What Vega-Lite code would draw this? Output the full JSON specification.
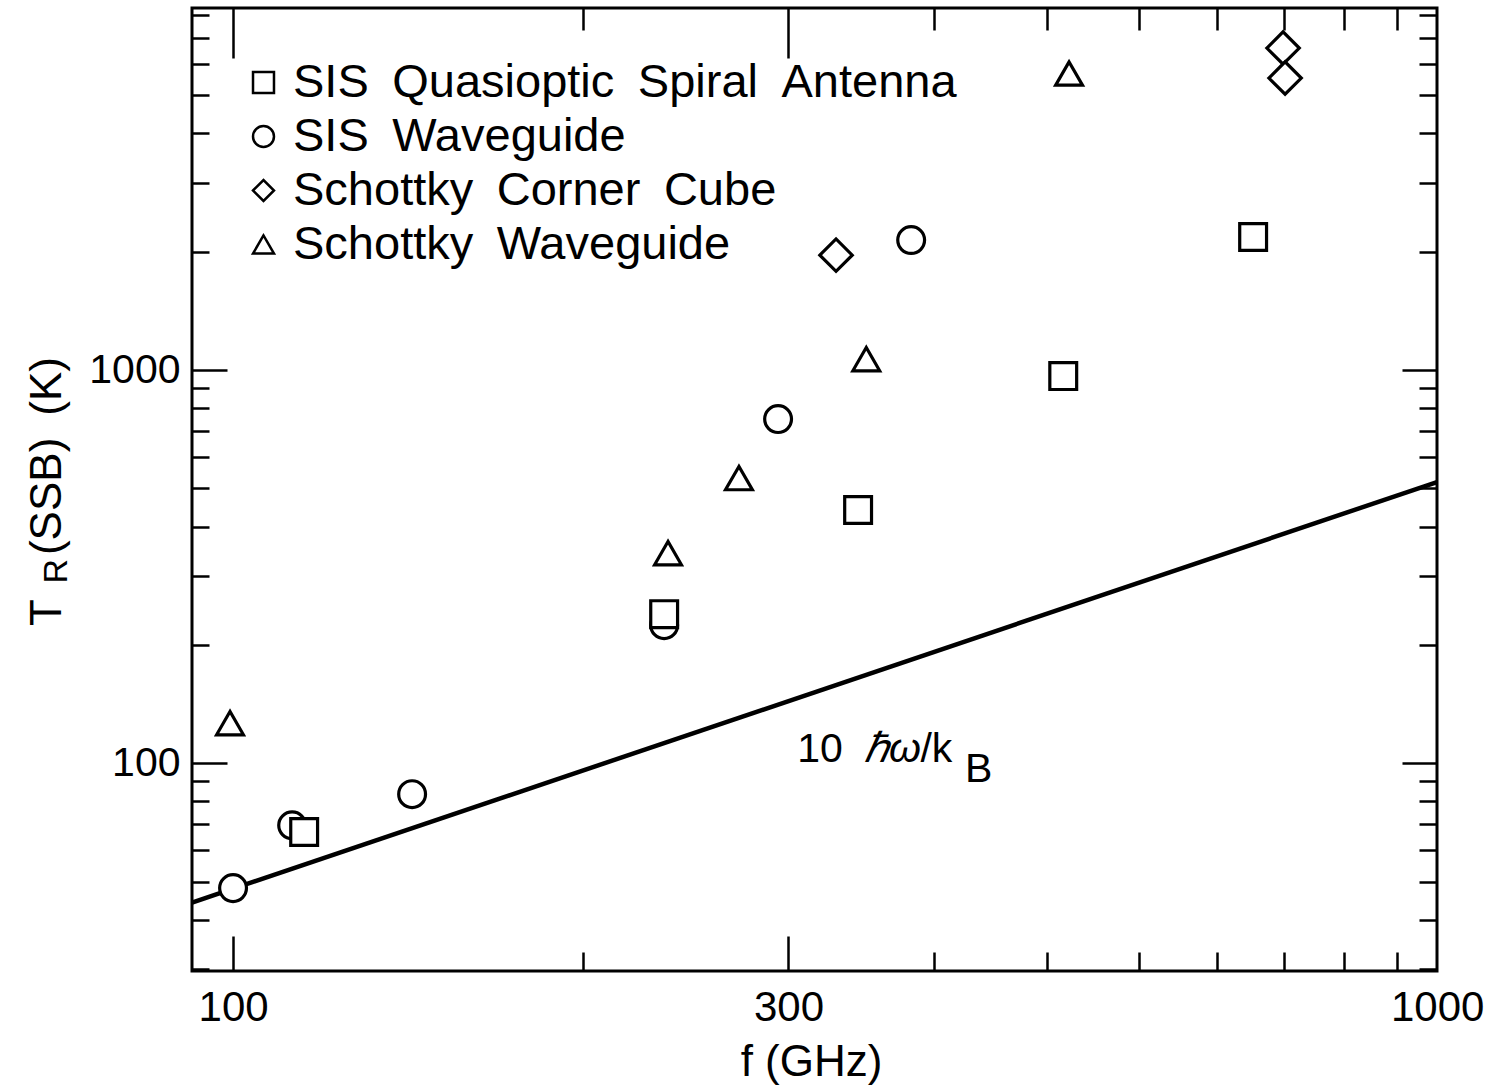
{
  "$schema": "https://vega.github.io/schema/vega-lite/v6.json",
  "width": 1245,
  "height": 963,
  "autosize": {"type": "none"},
  "padding": {"left": 192, "top": 8, "right": 53, "bottom": 117},
  "background": "white",
  "config": {
    "view": {"stroke": "black", "strokeWidth": 3},
    "font": "Liberation Sans",
    "axis": {"domain": false, "grid": false, "tickColor": "black", "tickWidth": 2.5, "labelColor": "black", "titleColor": "black", "labelFont": "Liberation Sans", "titleFont": "Liberation Sans", "titleFontWeight": "normal", "labelOverlap": false, "labelFlush": false}
  },
  "datasets": {
    "points": [
      {"series": "SIS Waveguide", "f": 100.0, "T": 48.1},
      {"series": "SIS Waveguide", "f": 112.4, "T": 69.5},
      {"series": "SIS Waveguide", "f": 142.5, "T": 83.4},
      {"series": "SIS Waveguide", "f": 234.6, "T": 224.4},
      {"series": "SIS Waveguide", "f": 293.9, "T": 750.5},
      {"series": "SIS Waveguide", "f": 382.4, "T": 2142},
      {"series": "Schottky Waveguide", "f": 99.4, "T": 126.4},
      {"series": "Schottky Waveguide", "f": 236.4, "T": 342.2},
      {"series": "Schottky Waveguide", "f": 272.0, "T": 531.1},
      {"series": "Schottky Waveguide", "f": 349.9, "T": 1066},
      {"series": "Schottky Waveguide", "f": 522.6, "T": 5682},
      {"series": "Schottky Corner Cube", "f": 329.6, "T": 1961},
      {"series": "Schottky Corner Cube", "f": 798.0, "T": 6597},
      {"series": "Schottky Corner Cube", "f": 801.2, "T": 5534},
      {"series": "SIS Quasioptic Spiral Antenna", "f": 115.1, "T": 66.8},
      {"series": "SIS Quasioptic Spiral Antenna", "f": 234.6, "T": 239.4},
      {"series": "SIS Quasioptic Spiral Antenna", "f": 344.3, "T": 440.5},
      {"series": "SIS Quasioptic Spiral Antenna", "f": 516.6, "T": 965.4},
      {"series": "SIS Quasioptic Spiral Antenna", "f": 752.1, "T": 2180}
    ],
    "limit": [
      {"f": 92.2, "T": 44.2},
      {"f": 1082, "T": 519}
    ]
  },
  "layer": [
    {
      "data": {"name": "limit"},
      "mark": {"type": "line", "stroke": "black", "strokeWidth": 4.5},
      "encoding": {
        "x": {"field": "f", "type": "quantitative", "scale": {"type": "log", "domain": [92.2, 1082], "nice": false, "zero": false},
          "axis": {"orient": "top", "title": null, "labels": false, "values": [100, 200, 300, 400, 500, 600, 700, 800, 900, 1000],
            "tickSize": {"condition": {"test": "datum.value === 100 || datum.value === 300", "value": -50}, "value": -22}}},
        "y": {"field": "T", "type": "quantitative", "scale": {"type": "log", "domain": [29.6, 8340], "nice": false, "zero": false},
          "axis": {"orient": "right", "title": null, "labels": false, "values": [30, 40, 50, 60, 70, 80, 90, 100, 200, 300, 400, 500, 600, 700, 800, 900, 1000, 2000, 3000, 4000, 5000, 6000, 7000, 8000],
            "tickSize": {"condition": {"test": "datum.value === 100 || datum.value === 1000", "value": -35}, "value": -18}}}
      }
    },
    {
      "data": {"name": "points"},
      "mark": {"type": "point", "filled": false, "fill": "white", "fillOpacity": 1, "stroke": "black", "strokeWidth": 3.2, "opacity": 1},
      "encoding": {
        "x": {"field": "f", "type": "quantitative", "scale": {"type": "log", "domain": [92.2, 1082], "nice": false, "zero": false},
          "axis": {"orient": "bottom", "title": "f (GHz)", "titleFontSize": 44, "titleX": 619, "titleY": 104, "titleAlign": "center", "titleBaseline": "alphabetic",
            "values": [100, 200, 300, 400, 500, 600, 700, 800, 900, 1000],
            "labelExpr": "datum.value === 100 || datum.value === 300 || datum.value === 1000 ? format(datum.value, 'd') : ''",
            "labelFontSize": 42, "labelBaseline": "alphabetic", "labelAlign": "center",
            "tickSize": {"condition": {"test": "datum.value === 100 || datum.value === 300", "value": -35}, "value": -19},
            "labelPadding": {"condition": {"test": "datum.value === 100 || datum.value === 300", "value": 84}, "value": 68},
            "labelOffset": {"condition": {"test": "datum.value === 1000", "value": 40}, "value": 0}}},
        "y": {"field": "T", "type": "quantitative", "scale": {"type": "log", "domain": [29.6, 8340], "nice": false, "zero": false},
          "axis": {"orient": "left", "title": "T\u2002\u2002(SSB)\u2002(K)", "titleFontSize": 44, "titleX": -132, "titleY": 483, "titleAngle": 270, "titleAlign": "center", "titleBaseline": "alphabetic",
            "values": [30, 40, 50, 60, 70, 80, 90, 100, 200, 300, 400, 500, 600, 700, 800, 900, 1000, 2000, 3000, 4000, 5000, 6000, 7000, 8000],
            "labelExpr": "datum.value === 100 || datum.value === 1000 ? format(datum.value, 'd') : ''",
            "labelFontSize": 41, "labelBaseline": "middle", "labelAlign": "right", "labelPadding": 47,
            "tickSize": {"condition": {"test": "datum.value === 100 || datum.value === 1000", "value": -35}, "value": -17}}},
        "shape": {"field": "series", "type": "nominal",
          "scale": {"domain": ["SIS Quasioptic Spiral Antenna", "SIS Waveguide", "Schottky Corner Cube", "Schottky Waveguide"], "range": ["square", "circle", "diamond", "triangle-up"]},
          "legend": {"orient": "none", "legendX": 48, "legendY": 51, "title": null, "labelFontSize": 47, "labelFont": "Liberation Sans", "labelColor": "black", "labelLimit": 0,
            "labelExpr": "replace(datum.label, regexp(' ', 'g'), '\u2002')",
            "symbolSize": 440, "symbolStrokeWidth": 2.5, "labelOffset": 6, "rowPadding": 6}},
        "size": {"condition": {"test": "datum.series === 'Schottky Corner Cube'", "value": 1050}, "value": 720}
      }
    },
    {
      "data": {"values": [
        {"label": "10", "f": 305.2, "T": 100.6},
        {"label": "/k", "f": 389.5, "T": 100.6},
        {"label": "B", "f": 425.4, "T": 89.5}
      ]},
      "mark": {"type": "text", "align": "left", "baseline": "alphabetic", "fontSize": 41, "font": "Liberation Sans", "color": "black"},
      "encoding": {
        "x": {"field": "f", "type": "quantitative", "scale": {"type": "log", "domain": [92.2, 1082], "nice": false, "zero": false}, "axis": null},
        "y": {"field": "T", "type": "quantitative", "scale": {"type": "log", "domain": [29.6, 8340], "nice": false, "zero": false}, "axis": null},
        "text": {"field": "label"}
      }
    },
    {
      "data": {"values": [
        {"label": "ℏω", "f": 348.4, "T": 100.6}
      ]},
      "mark": {"type": "text", "align": "left", "baseline": "alphabetic", "fontSize": 41, "fontStyle": "italic", "font": "Liberation Sans", "color": "black"},
      "encoding": {
        "x": {"field": "f", "type": "quantitative", "scale": {"type": "log", "domain": [92.2, 1082], "nice": false, "zero": false}, "axis": null},
        "y": {"field": "T", "type": "quantitative", "scale": {"type": "log", "domain": [29.6, 8340], "nice": false, "zero": false}, "axis": null},
        "text": {"field": "label"}
      }
    },
    {
      "data": {"values": [
        {"label": "R", "f": 70.6, "T": 308}
      ]},
      "mark": {"type": "text", "align": "center", "baseline": "middle", "angle": 270, "fontSize": 34, "font": "Liberation Sans", "color": "black"},
      "encoding": {
        "x": {"field": "f", "type": "quantitative", "scale": {"type": "log", "domain": [92.2, 1082], "nice": false, "zero": false}, "axis": null},
        "y": {"field": "T", "type": "quantitative", "scale": {"type": "log", "domain": [29.6, 8340], "nice": false, "zero": false}, "axis": null},
        "text": {"field": "label"}
      }
    }
  ],
  "resolve": {"axis": {"x": "independent", "y": "independent"}}
}
